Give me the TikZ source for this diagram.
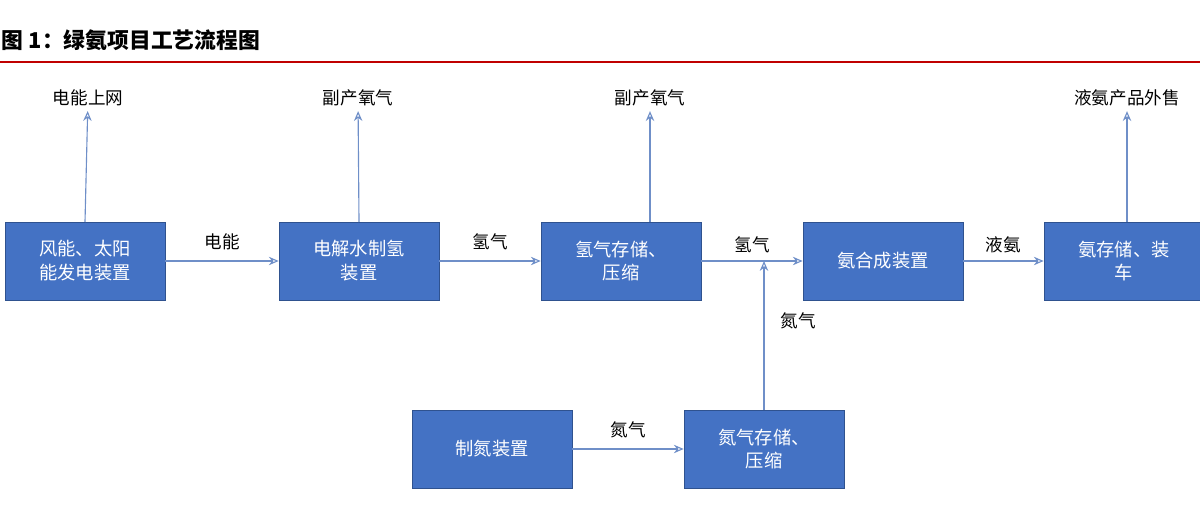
\documentclass[tikz,border=0pt]{standalone}
\usepackage{fontspec}
\setmainfont{Noto Sans CJK SC}
\usetikzlibrary{arrows.meta}
\definecolor{boxblue}{HTML}{4472C4}
\definecolor{boxline}{HTML}{2F528F}
\definecolor{arrline}{HTML}{6F8FC8}
\definecolor{titlered}{HTML}{C00000}
\tikzset{
  unit/.style={rectangle,draw=boxline,fill=boxblue,text=white,minimum width=4cm,minimum height=1.95cm,align=center,font=\fontsize{13}{17}\selectfont},
  lbl/.style={font=\fontsize{12.5}{15}\selectfont},
  flow/.style={draw=arrline,line width=0.8pt,-{Stealth[length=7pt,width=6pt,open]}}
}
\begin{document}
\begin{tikzpicture}[x=0.025cm,y=-0.025cm]
\useasboundingbox (0,0) rectangle (1200,511);
\node[anchor=west,font=\fontsize{15.5}{18}\bfseries\selectfont] (title) at (-3,40) {图 1：绿氨项目工艺流程图};
\draw[titlered,line width=1.5pt] (0,62) -- (1200,62);
\node[unit] (power) at (85,261) {风能、太阳\\能发电装置};
\node[unit] (elec) at (359,261) {电解水制氢\\装置};
\node[unit] (h2st) at (621,261) {氢气存储、\\压缩};
\node[unit] (syn) at (883,261) {氨合成装置};
\node[unit] (nh3st) at (1124,261) {氨存储、装\\车};
\node[unit] (n2gen) at (492,449) {制氮装置};
\node[unit] (n2st) at (764,449) {氮气存储、\\压缩};
\node[lbl] (grid) at (88,98) {电能上网};
\node[lbl] (o2a) at (358,98) {副产氧气};
\node[lbl] (o2b) at (650,98) {副产氧气};
\node[lbl] (sale) at (1127,98) {液氨产品外售};
\coordinate (join) at (764,261);
\draw[flow] (power) -- node[lbl,above=4pt]{电能} (elec);
\draw[flow] (elec) -- node[lbl,above=4pt]{氢气} (h2st);
\draw[flow] (h2st) -- node[lbl,above=2pt,pos=0.5]{氢气} (syn);
\draw[flow] (syn) -- node[lbl,above=2pt]{液氨} (nh3st);
\draw[flow] (n2gen) -- node[lbl,above=4pt]{氮气} (n2st);
\draw[flow] (n2st) -- node[lbl,right=8pt,pos=0.6]{氮气} (join);
\draw[flow] (85,222) -- (grid);
\draw[flow] (359,222) -- (o2a);
\draw[flow] (650,222) -- (o2b);
\draw[flow] (1127,222) -- (sale);
\end{tikzpicture}
\end{document}
